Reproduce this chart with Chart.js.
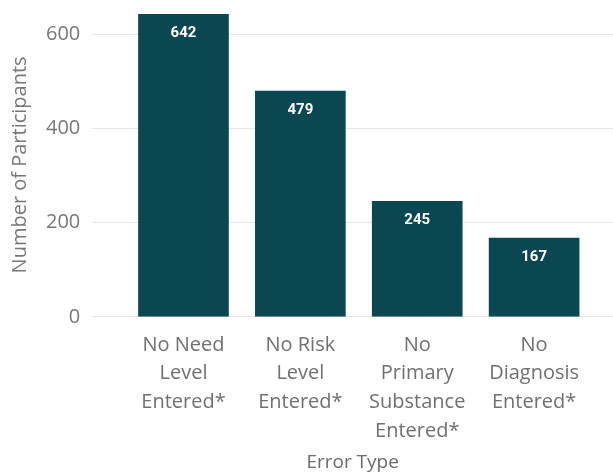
<!DOCTYPE html>
<html>
<head>
<meta charset="utf-8">
<script src="https://cdn.jsdelivr.net/npm/chart.js@4/dist/chart.umd.min.js"></script>
<style>
  html, body { margin: 0; padding: 0; background: #fff; }
  #wrap { width: 613px; height: 474px; }
</style>
</head>
<body>
<div id="wrap"><canvas id="errorChart"></canvas></div>
<script>
const categories = [
    ['No Need', 'Level', 'Entered*'],
    ['No Risk', 'Level', 'Entered*'],
    ['No', 'Primary', 'Substance', 'Entered*'],
    ['No', 'Diagnosis', 'Entered*']
];
const participants = [642, 479, 245, 167];
const yTicks = [0, 200, 400, 600];

const barColor = '#0b4751';
const axisFont = '"Open Sans", "Noto Sans", sans-serif';

// value labels drawn inside the top of each bar
const barValueLabels = {
    id: 'barValueLabels',
    afterDatasetsDraw(chart) {
        const ctx = chart.ctx;
        const meta = chart.getDatasetMeta(0);
        ctx.save();
        ctx.font = 'bold 15px Roboto, sans-serif';
        ctx.fillStyle = '#ffffff';
        ctx.textAlign = 'center';
        ctx.textBaseline = 'middle';
        meta.data.forEach((bar, i) => {
            ctx.fillText(String(participants[i]), bar.x, bar.y + 19);
        });
        ctx.restore();
    }
};

const points = participants.map((v, i) => ({ x: i, y: v }));

new Chart(document.getElementById('errorChart'), {
    type: 'bar',
    data: {
        datasets: [{
            label: 'Number of Participants',
            data: points,
            backgroundColor: barColor,
            barThickness: 90
        }]
    },
    options: {
        responsive: true,
        maintainAspectRatio: false,
        animation: false,
        layout: { padding: { top: 0, right: 0, left: 8, bottom: 0 } },
        plugins: {
            legend: { display: false },
            tooltip: { enabled: false }
        },
        scales: {
            x: {
                type: 'linear',
                min: -0.78,
                max: 3.675,
                offset: false,
                grid: { display: false, drawTicks: false },
                border: { display: false },
                afterBuildTicks: axis => {
                    axis.ticks = categories.map((c, i) => ({ value: i }));
                },
                ticks: {
                    autoSkip: false,
                    maxRotation: 0,
                    padding: 14,
                    color: '#707070',
                    font: { family: axisFont, size: 20, lineHeight: 1.43 },
                    callback: value => categories[value] || ''
                },
                title: {
                    display: true,
                    text: 'Error Type',
                    color: '#6b6b6b',
                    font: { family: axisFont, size: 19 },
                    padding: { top: -8, bottom: 0 }
                }
            },
            y: {
                min: 0,
                max: 645,
                afterBuildTicks: axis => {
                    axis.ticks = yTicks.map(v => ({ value: v }));
                },
                grid: { color: '#e8e8e8', drawTicks: false },
                border: { display: false },
                ticks: {
                    padding: 12,
                    color: '#777777',
                    // tiny line height keeps the top tick from padding the plot down
                    font: { family: axisFont, size: 20, lineHeight: 0.1 }
                },
                title: {
                    display: true,
                    text: 'Number of Participants',
                    color: '#777777',
                    font: { family: axisFont, size: 20 },
                    padding: { top: 0, bottom: 2 }
                }
            }
        }
    },
    plugins: [barValueLabels]
});
</script>
</body>
</html>
